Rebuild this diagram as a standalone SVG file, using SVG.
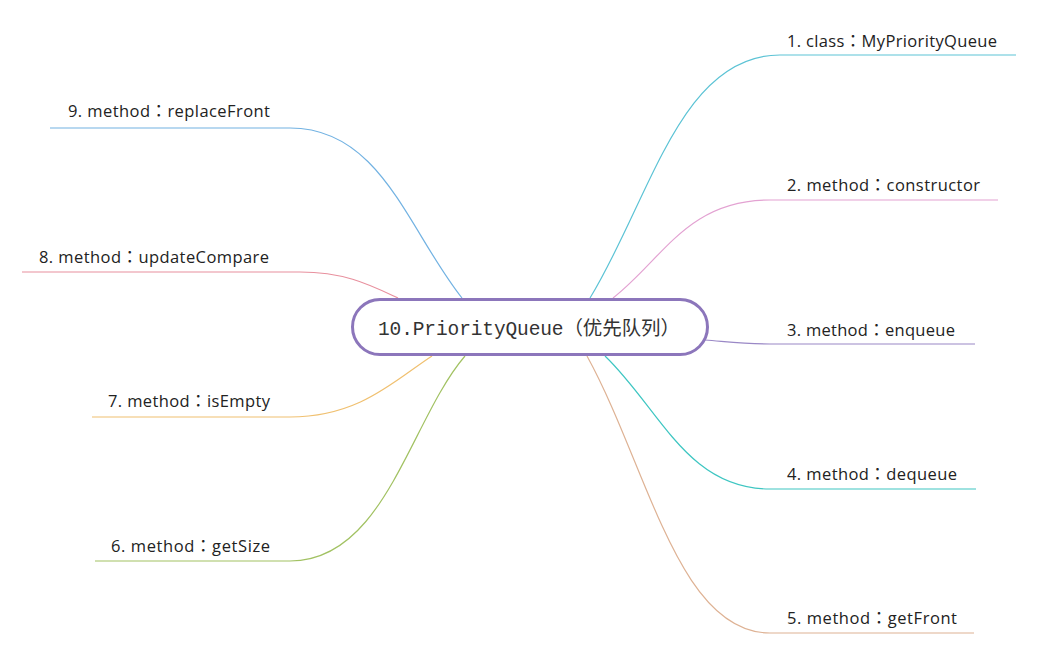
<svg xmlns="http://www.w3.org/2000/svg" width="1037" height="655" viewBox="0 0 1037 655">
  <style>
    .lbl { font-family: "Open Sans", "Noto Sans CJK TC", sans-serif; font-size: 16.5px; fill: #222; }
    .edge { fill: none; stroke-width: 1.2; }
    .center-box { fill: #ffffff; stroke: #8c76bb; stroke-width: 3; }
    .center-txt { font-family: "Liberation Mono", "Noto Sans CJK SC", monospace; font-size: 19.5px; fill: #333; }
  </style>
  <rect width="1037" height="655" fill="#ffffff"/>
  <g id="connectors">
    <path class="edge" stroke="#5cc3d5" d="M590,298 C650,200 680,55 780,55 H1016"/>
    <path class="edge" stroke="#e3a2d2" d="M613,298 C663,259 687,200 770,200 H998"/>
    <path class="edge" stroke="#9a88c6" d="M705,340 C730,342 745,344 770,344 H975"/>
    <path class="edge" stroke="#3ec6c2" d="M605,356 C660,409 687,489 770,489 H976"/>
    <path class="edge" stroke="#deb294" d="M587,356 C648,467 678,633 770,633 H974"/>
    <path class="edge" stroke="#72b2e2" d="M462,298 C408,230 381,128 290,128 H50"/>
    <path class="edge" stroke="#e8909e" d="M398,298 C370,285 345,272 300,272 H22"/>
    <path class="edge" stroke="#f0c070" d="M432,356 C395,380 360,417 290,417 H92"/>
    <path class="edge" stroke="#a2c263" d="M465,356 C410,420 385,561 290,561 H95"/>
  </g>
  <g id="node-center">
    <rect class="center-box" x="352.5" y="299.5" width="355" height="55" rx="27.5"/>
    <text class="center-txt" x="378" y="335" textLength="302" lengthAdjust="spacing">10.PriorityQueue（优先队列）</text>
  </g>
  <g id="node-1"><text class="lbl" x="787" y="47" textLength="210" lengthAdjust="spacing">1. class：MyPriorityQueue</text></g>
  <g id="node-2"><text class="lbl" x="787" y="191" textLength="193" lengthAdjust="spacing">2. method：constructor</text></g>
  <g id="node-3"><text class="lbl" x="787" y="336" textLength="168" lengthAdjust="spacing">3. method：enqueue</text></g>
  <g id="node-4"><text class="lbl" x="787" y="480" textLength="170" lengthAdjust="spacing">4. method：dequeue</text></g>
  <g id="node-5"><text class="lbl" x="787" y="624" textLength="170" lengthAdjust="spacing">5. method：getFront</text></g>
  <g id="node-6"><text class="lbl" x="111" y="552" textLength="159" lengthAdjust="spacing">6. method：getSize</text></g>
  <g id="node-7"><text class="lbl" x="108" y="407" textLength="162" lengthAdjust="spacing">7. method：isEmpty</text></g>
  <g id="node-8"><text class="lbl" x="39" y="263" textLength="230" lengthAdjust="spacing">8. method：updateCompare</text></g>
  <g id="node-9"><text class="lbl" x="68" y="117" textLength="202" lengthAdjust="spacing">9. method：replaceFront</text></g>
</svg>
